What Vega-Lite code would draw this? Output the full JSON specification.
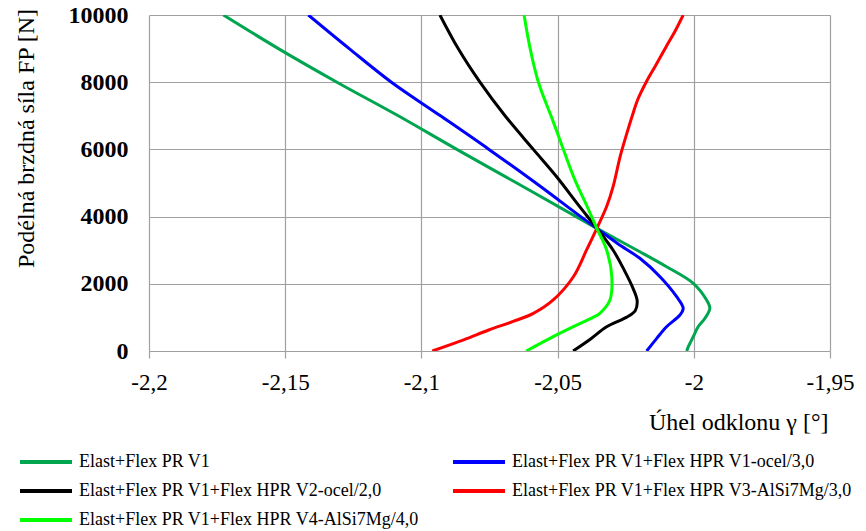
{
  "$schema": "https://vega.github.io/schema/vega-lite/v6.json",
  "width": 681,
  "height": 336,
  "autosize": "none",
  "padding": {"left": 149, "top": 15, "right": 36, "bottom": 180},
  "background": "white",
  "config": {
    "view": {"stroke": null},
    "font": "Times New Roman, Liberation Serif, serif"
  },
  "data": {
    "values": [
      {"serie": "Elast+Flex PR V1", "F": 0, "gamma": -2.0026},
      {"serie": "Elast+Flex PR V1", "F": 128, "gamma": -2.002},
      {"serie": "Elast+Flex PR V1", "F": 426, "gamma": -2.0002},
      {"serie": "Elast+Flex PR V1", "F": 723, "gamma": -1.9984},
      {"serie": "Elast+Flex PR V1", "F": 973, "gamma": -1.9959},
      {"serie": "Elast+Flex PR V1", "F": 1271, "gamma": -1.9941},
      {"serie": "Elast+Flex PR V1", "F": 1518, "gamma": -1.9953},
      {"serie": "Elast+Flex PR V1", "F": 2015, "gamma": -2.0002},
      {"serie": "Elast+Flex PR V1", "F": 2509, "gamma": -2.01},
      {"serie": "Elast+Flex PR V1", "F": 2955, "gamma": -2.0198},
      {"serie": "Elast+Flex PR V1", "F": 3650, "gamma": -2.0356},
      {"serie": "Elast+Flex PR V1", "F": 4000, "gamma": -2.0432},
      {"serie": "Elast+Flex PR V1", "F": 5000, "gamma": -2.065},
      {"serie": "Elast+Flex PR V1", "F": 6000, "gamma": -2.087},
      {"serie": "Elast+Flex PR V1", "F": 7000, "gamma": -2.1085},
      {"serie": "Elast+Flex PR V1", "F": 8000, "gamma": -2.131},
      {"serie": "Elast+Flex PR V1", "F": 9000, "gamma": -2.1525},
      {"serie": "Elast+Flex PR V1", "F": 10000, "gamma": -2.1727},

      {"serie": "Elast+Flex PR V1+Flex HPR V1-ocel/3,0", "F": 0, "gamma": -2.0173},
      {"serie": "Elast+Flex PR V1+Flex HPR V1-ocel/3,0", "F": 377, "gamma": -2.0136},
      {"serie": "Elast+Flex PR V1+Flex HPR V1-ocel/3,0", "F": 723, "gamma": -2.01},
      {"serie": "Elast+Flex PR V1+Flex HPR V1-ocel/3,0", "F": 1071, "gamma": -2.0051},
      {"serie": "Elast+Flex PR V1+Flex HPR V1-ocel/3,0", "F": 1271, "gamma": -2.0039},
      {"serie": "Elast+Flex PR V1+Flex HPR V1-ocel/3,0", "F": 1616, "gamma": -2.0063},
      {"serie": "Elast+Flex PR V1+Flex HPR V1-ocel/3,0", "F": 2212, "gamma": -2.0124},
      {"serie": "Elast+Flex PR V1+Flex HPR V1-ocel/3,0", "F": 2759, "gamma": -2.0198},
      {"serie": "Elast+Flex PR V1+Flex HPR V1-ocel/3,0", "F": 3200, "gamma": -2.028},
      {"serie": "Elast+Flex PR V1+Flex HPR V1-ocel/3,0", "F": 3650, "gamma": -2.0356},
      {"serie": "Elast+Flex PR V1+Flex HPR V1-ocel/3,0", "F": 4000, "gamma": -2.0415},
      {"serie": "Elast+Flex PR V1+Flex HPR V1-ocel/3,0", "F": 5000, "gamma": -2.058},
      {"serie": "Elast+Flex PR V1+Flex HPR V1-ocel/3,0", "F": 6000, "gamma": -2.0752},
      {"serie": "Elast+Flex PR V1+Flex HPR V1-ocel/3,0", "F": 7000, "gamma": -2.093},
      {"serie": "Elast+Flex PR V1+Flex HPR V1-ocel/3,0", "F": 8000, "gamma": -2.111},
      {"serie": "Elast+Flex PR V1+Flex HPR V1-ocel/3,0", "F": 9000, "gamma": -2.1265},
      {"serie": "Elast+Flex PR V1+Flex HPR V1-ocel/3,0", "F": 10000, "gamma": -2.1415},

      {"serie": "Elast+Flex PR V1+Flex HPR V2-ocel/2,0", "F": 0, "gamma": -2.0443},
      {"serie": "Elast+Flex PR V1+Flex HPR V2-ocel/2,0", "F": 350, "gamma": -2.038},
      {"serie": "Elast+Flex PR V1+Flex HPR V2-ocel/2,0", "F": 720, "gamma": -2.032},
      {"serie": "Elast+Flex PR V1+Flex HPR V2-ocel/2,0", "F": 1000, "gamma": -2.0248},
      {"serie": "Elast+Flex PR V1+Flex HPR V2-ocel/2,0", "F": 1200, "gamma": -2.0215},
      {"serie": "Elast+Flex PR V1+Flex HPR V2-ocel/2,0", "F": 1500, "gamma": -2.0208},
      {"serie": "Elast+Flex PR V1+Flex HPR V2-ocel/2,0", "F": 1900, "gamma": -2.0225},
      {"serie": "Elast+Flex PR V1+Flex HPR V2-ocel/2,0", "F": 2400, "gamma": -2.0255},
      {"serie": "Elast+Flex PR V1+Flex HPR V2-ocel/2,0", "F": 3000, "gamma": -2.0296},
      {"serie": "Elast+Flex PR V1+Flex HPR V2-ocel/2,0", "F": 3650, "gamma": -2.0356},
      {"serie": "Elast+Flex PR V1+Flex HPR V2-ocel/2,0", "F": 4350, "gamma": -2.0424},
      {"serie": "Elast+Flex PR V1+Flex HPR V2-ocel/2,0", "F": 5200, "gamma": -2.0505},
      {"serie": "Elast+Flex PR V1+Flex HPR V2-ocel/2,0", "F": 6000, "gamma": -2.0589},
      {"serie": "Elast+Flex PR V1+Flex HPR V2-ocel/2,0", "F": 7000, "gamma": -2.0693},
      {"serie": "Elast+Flex PR V1+Flex HPR V2-ocel/2,0", "F": 8000, "gamma": -2.0785},
      {"serie": "Elast+Flex PR V1+Flex HPR V2-ocel/2,0", "F": 9000, "gamma": -2.0865},
      {"serie": "Elast+Flex PR V1+Flex HPR V2-ocel/2,0", "F": 10000, "gamma": -2.0932},

      {"serie": "Elast+Flex PR V1+Flex HPR V3-AlSi7Mg/3,0", "F": 0, "gamma": -2.096},
      {"serie": "Elast+Flex PR V1+Flex HPR V3-AlSi7Mg/3,0", "F": 330, "gamma": -2.0845},
      {"serie": "Elast+Flex PR V1+Flex HPR V3-AlSi7Mg/3,0", "F": 625, "gamma": -2.0753},
      {"serie": "Elast+Flex PR V1+Flex HPR V3-AlSi7Mg/3,0", "F": 880, "gamma": -2.0663},
      {"serie": "Elast+Flex PR V1+Flex HPR V3-AlSi7Mg/3,0", "F": 1120, "gamma": -2.0589},
      {"serie": "Elast+Flex PR V1+Flex HPR V3-AlSi7Mg/3,0", "F": 1520, "gamma": -2.0516},
      {"serie": "Elast+Flex PR V1+Flex HPR V3-AlSi7Mg/3,0", "F": 2210, "gamma": -2.0442},
      {"serie": "Elast+Flex PR V1+Flex HPR V3-AlSi7Mg/3,0", "F": 3000, "gamma": -2.0394},
      {"serie": "Elast+Flex PR V1+Flex HPR V3-AlSi7Mg/3,0", "F": 3650, "gamma": -2.0356},
      {"serie": "Elast+Flex PR V1+Flex HPR V3-AlSi7Mg/3,0", "F": 4300, "gamma": -2.032},
      {"serie": "Elast+Flex PR V1+Flex HPR V3-AlSi7Mg/3,0", "F": 4900, "gamma": -2.0296},
      {"serie": "Elast+Flex PR V1+Flex HPR V3-AlSi7Mg/3,0", "F": 5800, "gamma": -2.027},
      {"serie": "Elast+Flex PR V1+Flex HPR V3-AlSi7Mg/3,0", "F": 6500, "gamma": -2.0245},
      {"serie": "Elast+Flex PR V1+Flex HPR V3-AlSi7Mg/3,0", "F": 7100, "gamma": -2.0222},
      {"serie": "Elast+Flex PR V1+Flex HPR V3-AlSi7Mg/3,0", "F": 7500, "gamma": -2.0205},
      {"serie": "Elast+Flex PR V1+Flex HPR V3-AlSi7Mg/3,0", "F": 8000, "gamma": -2.0175},
      {"serie": "Elast+Flex PR V1+Flex HPR V3-AlSi7Mg/3,0", "F": 8500, "gamma": -2.014},
      {"serie": "Elast+Flex PR V1+Flex HPR V3-AlSi7Mg/3,0", "F": 9050, "gamma": -2.0102},
      {"serie": "Elast+Flex PR V1+Flex HPR V3-AlSi7Mg/3,0", "F": 9500, "gamma": -2.007},
      {"serie": "Elast+Flex PR V1+Flex HPR V3-AlSi7Mg/3,0", "F": 10000, "gamma": -2.0039},

      {"serie": "Elast+Flex PR V1+Flex HPR V4-AlSi7Mg/4,0", "F": 0, "gamma": -2.0615},
      {"serie": "Elast+Flex PR V1+Flex HPR V4-AlSi7Mg/4,0", "F": 377, "gamma": -2.0528},
      {"serie": "Elast+Flex PR V1+Flex HPR V4-AlSi7Mg/4,0", "F": 723, "gamma": -2.0442},
      {"serie": "Elast+Flex PR V1+Flex HPR V4-AlSi7Mg/4,0", "F": 1000, "gamma": -2.037},
      {"serie": "Elast+Flex PR V1+Flex HPR V4-AlSi7Mg/4,0", "F": 1122, "gamma": -2.0345},
      {"serie": "Elast+Flex PR V1+Flex HPR V4-AlSi7Mg/4,0", "F": 1518, "gamma": -2.0308},
      {"serie": "Elast+Flex PR V1+Flex HPR V4-AlSi7Mg/4,0", "F": 2211, "gamma": -2.0301},
      {"serie": "Elast+Flex PR V1+Flex HPR V4-AlSi7Mg/4,0", "F": 3006, "gamma": -2.032},
      {"serie": "Elast+Flex PR V1+Flex HPR V4-AlSi7Mg/4,0", "F": 3650, "gamma": -2.0356},
      {"serie": "Elast+Flex PR V1+Flex HPR V4-AlSi7Mg/4,0", "F": 4345, "gamma": -2.0394},
      {"serie": "Elast+Flex PR V1+Flex HPR V4-AlSi7Mg/4,0", "F": 5100, "gamma": -2.0437},
      {"serie": "Elast+Flex PR V1+Flex HPR V4-AlSi7Mg/4,0", "F": 6003, "gamma": -2.0479},
      {"serie": "Elast+Flex PR V1+Flex HPR V4-AlSi7Mg/4,0", "F": 6825, "gamma": -2.0516},
      {"serie": "Elast+Flex PR V1+Flex HPR V4-AlSi7Mg/4,0", "F": 8015, "gamma": -2.0571},
      {"serie": "Elast+Flex PR V1+Flex HPR V4-AlSi7Mg/4,0", "F": 9009, "gamma": -2.0601},
      {"serie": "Elast+Flex PR V1+Flex HPR V4-AlSi7Mg/4,0", "F": 10000, "gamma": -2.0623}
    ]
  },
  "mark": {"type": "line", "strokeWidth": 3, "interpolate": "catmull-rom", "clip": true},
  "encoding": {
    "x": {
      "field": "gamma",
      "type": "quantitative",
      "scale": {"domain": [-2.2, -1.95], "nice": false, "zero": false},
      "axis": {
        "values": [-2.2, -2.15, -2.1, -2.05, -2.0, -1.95],
        "labelExpr": "replace(replace(format(datum.value, '.2~f'), '.', ','), '\u2212', '-')",
        "grid": true,
        "gridColor": "#A0A0A0",
        "gridWidth": 1.2,
        "domain": false,
        "ticks": true,
        "tickSize": 7,
        "tickColor": "#A0A0A0",
        "tickWidth": 1.2,
        "labelFont": "Times New Roman, Liberation Serif, serif",
        "labelFontSize": 23,
        "labelColor": "black",
        "labelPadding": 13,
        "labelFlush": false,
        "labelOverlap": false,
        "title": "Úhel odklonu γ [°]",
        "titleFont": "Times New Roman, Liberation Serif, serif",
        "titleFontSize": 24,
        "titleFontWeight": "normal",
        "titleColor": "black",
        "titleAnchor": "end",
        "titleAlign": "right",
        "titleBaseline": "alphabetic",
        "titleX": 679,
        "titleY": 78
      }
    },
    "y": {
      "field": "F",
      "type": "quantitative",
      "scale": {"domain": [0, 10000], "nice": false},
      "axis": {
        "values": [0, 2000, 4000, 6000, 8000, 10000],
        "format": "d",
        "grid": true,
        "gridColor": "#A0A0A0",
        "gridWidth": 1.2,
        "domain": false,
        "ticks": false,
        "labelFont": "Times New Roman, Liberation Serif, serif",
        "labelFontSize": 24,
        "labelFontWeight": "bold",
        "labelColor": "black",
        "labelPadding": 21,
        "labelBaseline": "middle",
        "labelFlush": false,
        "labelOverlap": false,
        "title": "Podélná brzdná síla FP [N]",
        "titleFont": "Times New Roman, Liberation Serif, serif",
        "titleFontSize": 24,
        "titleFontWeight": "normal",
        "titleColor": "black",
        "titleAngle": 270,
        "titleAlign": "center",
        "titleBaseline": "middle",
        "titleX": -123,
        "titleY": 123
      }
    },
    "color": {
      "field": "serie",
      "type": "nominal",
      "scale": {
        "domain": [
          "Elast+Flex PR V1",
          "Elast+Flex PR V1+Flex HPR V2-ocel/2,0",
          "Elast+Flex PR V1+Flex HPR V4-AlSi7Mg/4,0",
          "Elast+Flex PR V1+Flex HPR V1-ocel/3,0",
          "Elast+Flex PR V1+Flex HPR V3-AlSi7Mg/3,0"
        ],
        "range": ["#00A550", "#000000", "#00FF00", "#0000FF", "#FF0000"]
      },
      "legend": {
        "title": null,
        "orient": "none",
        "legendX": -131,
        "legendY": 439,
        "columns": 2,
        "symbolType": "stroke",
        "symbolSize": 2704,
        "symbolStrokeWidth": 4,
        "labelFont": "Times New Roman, Liberation Serif, serif",
        "labelFontSize": 18,
        "labelColor": "black",
        "labelOffset": 5,
        "labelLimit": 0,
        "columnPadding": 32,
        "rowPadding": 11,
        "clipHeight": 16
      }
    },
    "order": {"field": "F", "type": "quantitative"}
  }
}
